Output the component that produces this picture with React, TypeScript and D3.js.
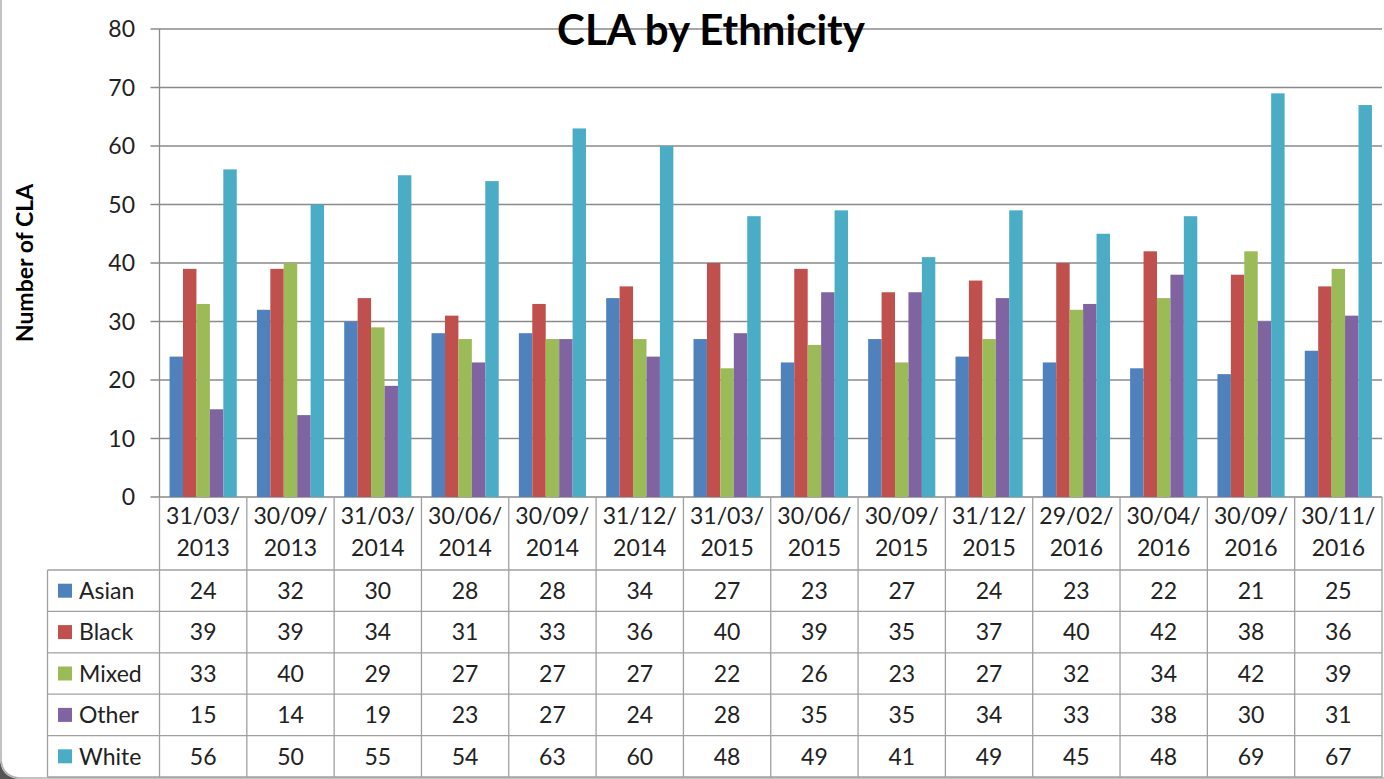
import React from "react";
import * as d3 from "d3";

const categories = [
  "31/03/2013", "30/09/2013", "31/03/2014", "30/06/2014", "30/09/2014", "31/12/2014", "31/03/2015",
  "30/06/2015", "30/09/2015", "31/12/2015", "29/02/2016", "30/04/2016", "30/09/2016", "30/11/2016",
];
const seriesNames = ["Asian", "Black", "Mixed", "Other", "White"];
const asian = [24, 32, 30, 28, 28, 34, 27, 23, 27, 24, 23, 22, 21, 25];
const black = [39, 39, 34, 31, 33, 36, 40, 39, 35, 37, 40, 42, 38, 36];
const mixed = [33, 40, 29, 27, 27, 27, 22, 26, 23, 27, 32, 34, 42, 39];
const other = [15, 14, 19, 23, 27, 24, 28, 35, 35, 34, 33, 38, 30, 31];
const white = [56, 50, 55, 54, 63, 60, 48, 49, 41, 49, 45, 48, 69, 67];
const seriesValues = [asian, black, mixed, other, white];
const seriesColors = ["#4F81BD", "#C0504D", "#9BBB59", "#8064A2", "#4BACC6"];
const yTicks = [0, 10, 20, 30, 40, 50, 60, 70, 80];

const W = 1384;
const H = 779;
const plotLeft = 159.5;
const plotRight = 1382;
const plotTop = 29;
const plotBottom = 497;
const tableHeaderBottom = 570;
const tableBottom = 777;
const tableLeft = 47.5;
const FONT = "Lato, 'Open Sans', sans-serif";
const TEXT = "#222";

export default function App() {
  const x = d3.scaleBand<string>().domain(categories).range([plotLeft, plotRight]);
  const bw = x.bandwidth();
  const barW = bw / 6.5;
  const x1 = d3
    .scaleBand<string>()
    .domain(seriesNames)
    .range([barW * 0.75, barW * 5.75]);
  const y = d3.scaleLinear().domain([0, 80]).range([plotBottom, plotTop]);
  const rowH = (tableBottom - tableHeaderBottom) / seriesNames.length;

  return (
    <svg width={W} height={H} style={{ position: "absolute", left: 0, top: 0, display: "block", background: "#fff" }}>
      {/* chart border & corner shadow */}
      <path d={`M0,${H - 22} Q0,${H} 22,${H} L0,${H} Z`} fill="#555" />
      <path d={`M1,-10 L1,${H - 22} Q1,${H - 1} 22,${H - 1} L${W + 10},${H - 1}`} fill="none" stroke="#b0b0b0" strokeWidth={1.5} />

      {/* gridlines */}
      {yTicks.map((t) => (
        <line key={"g" + t} x1={plotLeft - 9} x2={plotRight} y1={y(t)} y2={y(t)} stroke="#8a8a8a" strokeWidth={1.3} />
      ))}
      {/* y axis */}
      <line x1={plotLeft} x2={plotLeft} y1={plotTop} y2={plotBottom} stroke="#8a8a8a" strokeWidth={1.3} />
      {yTicks.map((t) => (
        <text key={"yt" + t} x={135} y={y(t)} dy="0.35em" textAnchor="end" fontFamily={FONT} fontSize={23} fill={TEXT}>
          {t}
        </text>
      ))}

      {/* bars */}
      {categories.map((c, i) => (
        <g key={c} transform={`translate(${x(c)},0)`}>
          {seriesNames.map((s, j) => (
            <rect
              key={s}
              x={x1(s)}
              y={y(seriesValues[j][i])}
              width={x1.bandwidth()}
              height={y(0) - y(seriesValues[j][i])}
              fill={seriesColors[j]}
            />
          ))}
        </g>
      ))}

      {/* title */}
      <text x={711} y={45} textAnchor="middle" fontFamily={FONT} fontWeight="bold" fontSize={42} fill="#000">
        CLA by Ethnicity
      </text>
      {/* y axis title */}
      <text
        transform={`translate(33,${263}) rotate(-90)`}
        textAnchor="middle"
        fontFamily={FONT}
        fontWeight="bold"
        fontSize={23}
        fill="#000"
      >
        Number of CLA
      </text>

      {/* data table */}
      <g stroke="#a0a0a0" strokeWidth={1.3}>
        {categories.map((c) => (
          <line key={"v" + c} x1={x(c)} x2={x(c)} y1={plotBottom} y2={tableBottom} />
        ))}
        <line x1={plotRight} x2={plotRight} y1={plotBottom} y2={tableBottom} />
        <line x1={tableLeft} x2={tableLeft} y1={tableHeaderBottom} y2={tableBottom} />
        {d3.range(seriesNames.length + 1).map((k) => (
          <line key={"h" + k} x1={tableLeft} x2={plotRight} y1={tableHeaderBottom + k * rowH} y2={tableHeaderBottom + k * rowH} />
        ))}
      </g>
      {categories.map((c) => {
        const [d, m, yr] = c.split("/");
        const cx = (x(c) as number) + bw / 2;
        return (
          <text key={"cl" + c} textAnchor="middle" fontFamily={FONT} fontSize={23} fill={TEXT}>
            <tspan x={cx} y={524}>{`${d}/${m}/`}</tspan>
            <tspan x={cx} y={556}>{yr}</tspan>
          </text>
        );
      })}
      {seriesNames.map((s, j) => {
        const cy = tableHeaderBottom + j * rowH + rowH / 2;
        return (
          <g key={"row" + s}>
            <rect x={58} y={cy - 7} width={14} height={14} fill={seriesColors[j]} />
            <text x={79} y={cy} dy="0.36em" fontFamily={FONT} fontSize={23} fill={TEXT}>
              {s}
            </text>
            {categories.map((c, i) => (
              <text
                key={c}
                x={(x(c) as number) + bw / 2}
                y={cy}
                dy="0.36em"
                textAnchor="middle"
                fontFamily={FONT}
                fontSize={23}
                fill={TEXT}
              >
                {seriesValues[j][i]}
              </text>
            ))}
          </g>
        );
      })}
    </svg>
  );
}
